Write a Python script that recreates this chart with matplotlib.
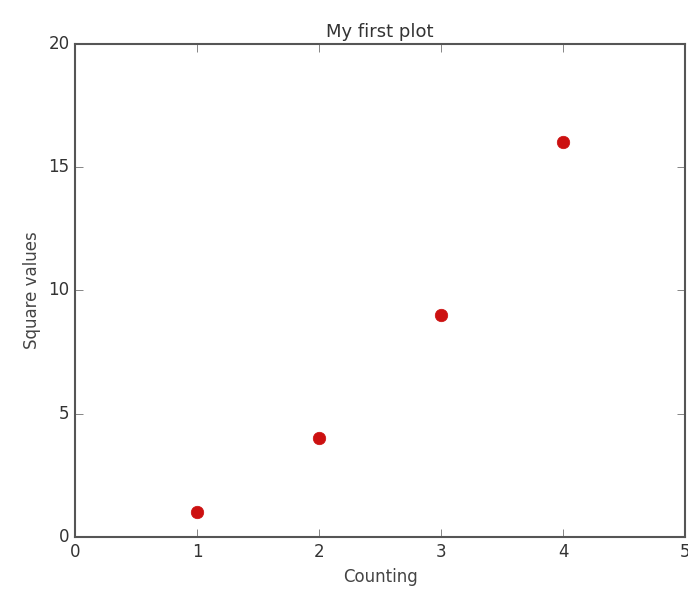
import matplotlib
matplotlib.use("Agg")
import matplotlib.pyplot as plt

counts = [1, 2, 3, 4]
squares = [1, 4, 9, 16]

plt.style.use('classic')
fig = plt.figure(figsize=(6.88, 6.0), dpi=100)
ax = fig.add_axes([0.109, 0.105, 0.887, 0.822])

ax.plot(counts, squares, 'o', color='#cc1010', markeredgecolor='#cc1010', markersize=9)
ax.set_xlim(0, 5)
ax.set_ylim(0, 20)
ax.set_xticks([0, 1, 2, 3, 4, 5])
ax.set_yticks([0, 5, 10, 15, 20])
for s in ax.spines.values():
    s.set_color('#555555')
    s.set_linewidth(1.5)
ax.tick_params(direction='in', length=6, colors='#555555', labelsize=12, labelcolor='#333333')

ax.set_title('My first plot', fontsize=13, color='#333333')
ax.set_xlabel('Counting', fontsize=12, color='#444444')
ax.set_ylabel('Square values', fontsize=12, color='#444444')

fig.savefig('out.png', dpi=100, facecolor='white')
